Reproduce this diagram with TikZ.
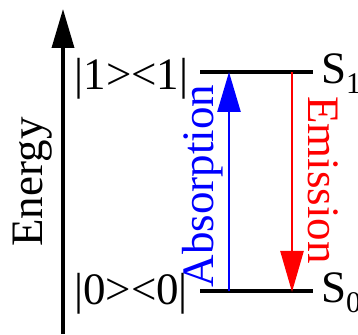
\documentclass[tikz,border=0pt]{standalone}
\usepackage{fontspec}
\setmainfont{Liberation Serif}
\usetikzlibrary{arrows.meta}
\tikzset{
  lbl/.style={inner sep=0pt, font=\fontsize{45}{54}\selectfont},
  level/.style={line width=3.5pt, black},
  axis/.style={line width=3.5pt, black, -{Triangle[length=39pt,width=22pt]}},
  absarr/.style={line width=2.5pt, blue, -{Triangle[length=40pt,width=23pt]}},
  emiarr/.style={line width=2.5pt, red, -{Triangle[length=41pt,width=23pt]}},
}
\newcommand{\subsc}[1]{\raisebox{-10pt}{\fontsize{30}{30}\selectfont #1}}
\begin{document}
\begin{tikzpicture}[x=1pt,y=1pt]
\useasboundingbox (0,0) rectangle (358,334);
\clip (0,0) rectangle (358,334);
% coordinates
\coordinate (axb) at (63,0);
\coordinate (axt) at (63,325);
\coordinate (s1l) at (200,262);
\coordinate (s1r) at (313,262);
\coordinate (s0l) at (200,43);
\coordinate (s0r) at (313,43);
\coordinate (absb) at (229,43);
\coordinate (abst) at (229,262);
\coordinate (emit) at (292,262);
\coordinate (emib) at (292,42);
% axis
\draw[axis] (axb) -- (axt);
\node[lbl, rotate=90, anchor=base] (energy) at (42,152) {Energy};
% levels
\draw[level] (s1l) -- (s1r);
\draw[level] (s0l) -- (s0r);
% arrows
\draw[absarr] (absb) -- (abst);
\draw[emiarr] (emit) -- (emib);
% labels
\node[lbl, rotate=90, anchor=base, text=blue] (abs) at (213,148) {Absorption};
\node[lbl, rotate=-90, anchor=base, text=red] (emi) at (308,154) {Emission};
\node[lbl, anchor=base west] (ket1) at (74.5,244) {|1><1|};
\node[lbl, anchor=base west] (ket0) at (74,29) {|0><0|};
\node[lbl, anchor=base west] (S1) at (321,250) {S\subsc{1}};
\node[lbl, anchor=base west] (S0) at (321,31) {S\subsc{0}};
\end{tikzpicture}
\end{document}
